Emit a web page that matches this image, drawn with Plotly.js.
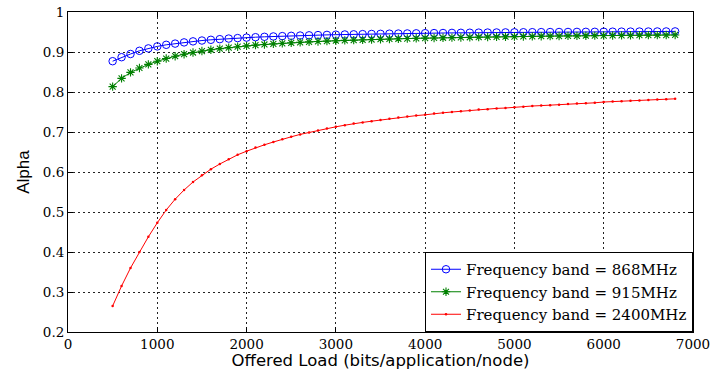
<!DOCTYPE html>
<html>
<head>
<meta charset="utf-8">
<script src="https://cdn.plot.ly/plotly-3.0.1.min.js"></script>
<style>html,body{margin:0;padding:0;background:#fff;}#chart{width:712px;height:370px;}</style>
</head>
<body>
<div id="chart"></div>
<script>
const offeredLoad = [500,600,700,800,900,1000,1100,1200,1300,1400,1500,1600,1700,1800,1900,2000,2100,2200,2300,2400,2500,2600,2700,2800,2900,3000,3100,3200,3300,3400,3500,3600,3700,3800,3900,4000,4100,4200,4300,4400,4500,4600,4700,4800,4900,5000,5100,5200,5300,5400,5500,5600,5700,5800,5900,6000,6100,6200,6300,6400,6500,6600,6700,6800];

const alpha868 = [0.877,0.887,0.895,0.903,0.909,0.914,0.918,0.921,0.924,0.9266,0.9287,0.9305,0.9321,0.9336,0.9348,0.936,0.937,0.938,0.9389,0.9397,0.9404,0.9411,0.9417,0.9423,0.9428,0.9433,0.9438,0.9442,0.9447,0.9451,0.9454,0.9458,0.9461,0.9464,0.9467,0.947,0.9473,0.9475,0.9478,0.948,0.9482,0.9484,0.9486,0.9488,0.949,0.9492,0.9494,0.9495,0.9497,0.9499,0.95,0.9501,0.9503,0.9504,0.9505,0.9507,0.9508,0.9509,0.951,0.9511,0.9512,0.9513,0.9514,0.9515];

const alpha915 = [0.8135,0.834,0.849,0.860,0.869,0.877,0.8836,0.8895,0.8945,0.8987,0.9024,0.9056,0.9085,0.911,0.9133,0.9153,0.9171,0.9188,0.9203,0.9217,0.923,0.9242,0.9253,0.9264,0.9273,0.9282,0.929,0.9298,0.9305,0.9312,0.9319,0.9325,0.9331,0.9336,0.9342,0.9347,0.9351,0.9356,0.936,0.9364,0.9368,0.9372,0.9375,0.9379,0.9382,0.9385,0.9388,0.9391,0.9394,0.9397,0.9399,0.9402,0.9404,0.9407,0.9409,0.9411,0.9413,0.9415,0.9417,0.9419,0.9421,0.9423,0.9424,0.9426];

const alpha2400 = [0.265,0.315,0.360,0.400,0.438,0.473,0.505,0.532,0.555,0.575,0.592,0.607,0.620,0.632,0.643,0.652,0.661,0.668,0.675,0.682,0.688,0.694,0.699,0.704,0.709,0.713,0.717,0.721,0.724,0.727,0.730,0.733,0.736,0.739,0.741,0.743,0.746,0.748,0.750,0.752,0.754,0.756,0.757,0.759,0.760,0.762,0.763,0.765,0.766,0.767,0.768,0.770,0.771,0.772,0.773,0.775,0.776,0.777,0.778,0.779,0.780,0.781,0.782,0.783];

const seriesNames = ['Frequency band = 868MHz','Frequency band = 915MHz','Frequency band = 2400MHz'];
const xTicks = [0,1000,2000,3000,4000,5000,6000,7000];
const yTicks = [0.2,0.3,0.4,0.5,0.6,0.7,0.8,0.9,1];
const yTickText = ['0.2','0.3','0.4','0.5','0.6','0.7','0.8','0.9','1'];

const traces = [
  {x: offeredLoad, y: alpha868, name: seriesNames[0], type: 'scatter', mode: 'lines+markers',
   line: {color: '#0000ff', width: 1}, marker: {symbol: 'circle-open', size: 7.5, color: '#0000ff', line: {width: 1, color: '#0000ff'}}},
  {x: offeredLoad, y: alpha915, name: seriesNames[1], type: 'scatter', mode: 'lines+markers',
   line: {color: '#008000', width: 1}, marker: {symbol: 'asterisk-open', size: 7, color: '#008000', line: {width: 1.1, color: '#008000'}}},
  {x: offeredLoad, y: alpha2400, name: seriesNames[2], type: 'scatter', mode: 'lines+markers',
   line: {color: '#ff0000', width: 1}, marker: {symbol: 'circle', size: 2.5, color: '#ff0000'}}
];

const serif = 'DejaVu Serif, Liberation Serif, serif';
const layout = {
  width: 712, height: 370,
  margin: {l: 68, r: 19, t: 12, b: 38},
  paper_bgcolor: '#fff', plot_bgcolor: '#fff',
  showlegend: true,
  legend: {x: 1, y: 0, xanchor: 'right', yanchor: 'bottom', bgcolor: '#fff', bordercolor: '#000', borderwidth: 1,
    font: {family: serif, size: 15, color: '#000'}, tracegroupgap: 0},
  xaxis: {range: [0, 7000], tickvals: xTicks, ticktext: xTicks.map(String),
    tickfont: {family: serif, size: 13.5, color: '#000'},
    showline: true, linecolor: '#000', linewidth: 1, mirror: 'ticks', ticks: 'inside', ticklen: 5, tickcolor: '#000',
    showgrid: true, gridcolor: '#222', griddash: '2px,3px', gridwidth: 1, zeroline: false,
    title: {text: 'Offered Load (bits/application/node)', font: {family: 'DejaVu Sans, Liberation Sans, sans-serif', size: 16.5, color: '#000'}, standoff: 3}},
  yaxis: {range: [0.2, 1], tickvals: yTicks, ticktext: yTickText,
    tickfont: {family: serif, size: 13.5, color: '#000'},
    showline: true, linecolor: '#000', linewidth: 1, mirror: 'ticks', ticks: 'inside', ticklen: 5, tickcolor: '#000',
    showgrid: true, gridcolor: '#222', griddash: '2px,3px', gridwidth: 1, zeroline: false,
    title: {text: 'Alpha', font: {family: 'Liberation Sans, Arial, sans-serif', size: 17, color: '#000'}, standoff: 8}}
};

Plotly.newPlot('chart', traces, layout, {displayModeBar: false, staticPlot: true});
</script>
</body>
</html>
